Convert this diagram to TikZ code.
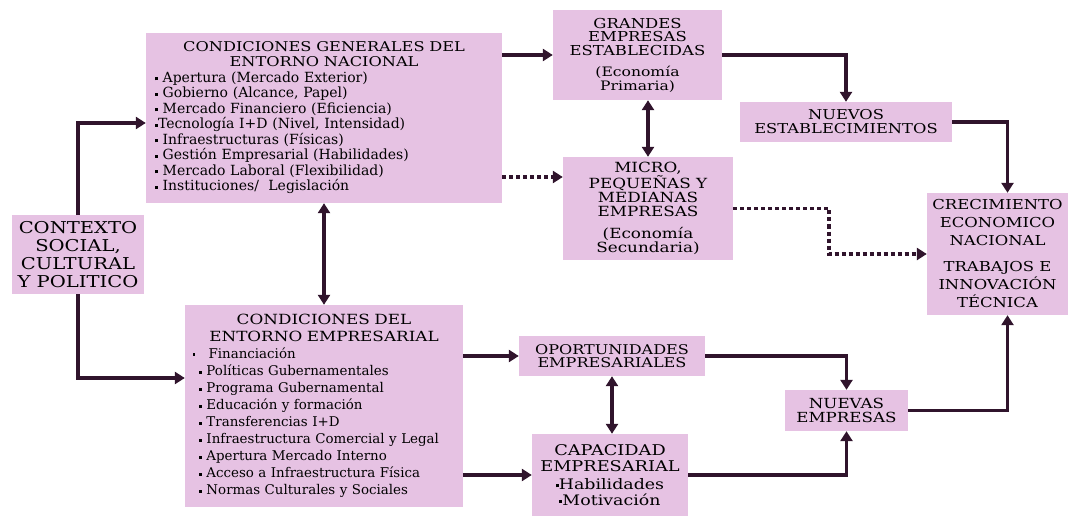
\documentclass[tikz,border=0pt]{standalone}
\usepackage{fontspec}
\setmainfont{DejaVu Serif}
\newfontfamily\capsfont[FakeStretch=1.2]{DejaVu Serif}
\usetikzlibrary{arrows.meta,calc,positioning}
\definecolor{box_pink}{RGB}{230,194,227}
\definecolor{my_dark}{RGB}{48,20,44}
\tikzset{
  box/.style = {fill=box_pink, draw=none, align=center, inner sep=0pt, text=black},
  list_box/.style = {box, align=left, inner xsep=9pt}
}
\newcommand{\sqb}{\rule[0.3ex]{3pt}{3pt}}
\newcommand{\boxtitle}[3]{{\centering\capsfont\fontsize{#1}{#2}\selectfont #3\par}}

\begin{document}
\begin{tikzpicture}[x=1pt, y=-1pt, >={Triangle[length=10pt,width=12pt]},
    link/.style={->, line width=3.5pt, my_dark},
    link2/.style={<->, line width=3.5pt, my_dark},
    dot_link/.style={link, dash pattern=on 4pt off 3pt}]
  \useasboundingbox (0,0) rectangle (1077,516);

  % left column
  \node[box, minimum width=132pt, minimum height=79pt, font=\capsfont\fontsize{16.3}{18}\selectfont]
    (ctx) at (78,254.5) {CONTEXTO\\SOCIAL,\\CULTURAL\\Y POLITICO};

  % national and business conditions
  \node[list_box, minimum height=170pt, text width=338pt, font=\fontsize{14}{15.5}\selectfont]
    (gen) at (324,118) {%
    \boxtitle{13.5}{15}{CONDICIONES GENERALES DEL\\ENTORNO NACIONAL}
    \sqb\ Apertura (Mercado Exterior)\\
    \sqb\ Gobierno (Alcance, Papel)\\
    \sqb\ Mercado Financiero (Eficiencia)\\
    \sqb Tecnología I+D (Nivel, Intensidad)\\
    \sqb\ Infraestructuras (Físicas)\\
    \sqb\ Gestión Empresarial (Habilidades)\\
    \sqb\ Mercado Laboral (Flexibilidad)\\
    \sqb\ Instituciones/\ \ Legislación};
  \node[list_box, inner xsep=14pt, minimum height=202pt, text width=250pt, font=\fontsize{13.4}{17}\selectfont]
    (emp) at (324,406) {%
    \boxtitle{14}{17}{CONDICIONES DEL\\ENTORNO EMPRESARIAL}
    \hspace{-6pt}\rule[0.45ex]{2.2pt}{2.2pt}\ \ \ Financiación\\
    \sqb\ Políticas Gubernamentales\\
    \sqb\ Programa Gubernamental\\
    \sqb\ Educación y formación\\
    \sqb\ Transferencias I+D\\
    \sqb\ Infraestructura Comercial y Legal\\
    \sqb\ Apertura Mercado Interno\\
    \sqb\ Acceso a Infraestructura Física\\
    \sqb\ Normas Culturales y Sociales};

  % firms
  \node[box, minimum width=169pt, minimum height=90pt, font=\capsfont\fontsize{13.7}{13.5}\selectfont]
    (grandes) at (637.5,55) {GRANDES\\EMPRESAS\\ESTABLECIDAS\\[8pt]{\fontsize{13}{15.5}\selectfont(Economía}\\{\fontsize{13}{15.5}\selectfont Primaria)}};
  \node[box, minimum width=170pt, minimum height=103pt, font=\capsfont\fontsize{14}{14}\selectfont]
    (mipymes) at (648,208.5) {MICRO,\\PEQUEÑAS Y\\MEDIANAS\\EMPRESAS\\[8pt]{\fontsize{14}{14}\selectfont(Economía}\\{\fontsize{14}{14}\selectfont Secundaria)}};
  \node[box, minimum width=212pt, minimum height=40pt, font=\capsfont\fontsize{13.6}{14}\selectfont]
    (nuevosest) at (846,122) {NUEVOS\\ESTABLECIMIENTOS};
  \node[box, minimum width=186pt, minimum height=40pt, font=\capsfont\fontsize{13.4}{13}\selectfont]
    (oport) at (612,356) {OPORTUNIDADES\\EMPRESARIALES};
  \node[box, minimum width=156pt, minimum height=82pt, font=\capsfont\fontsize{14.8}{15.5}\selectfont]
    (capac) at (610,475) {CAPACIDAD\\EMPRESARIAL\\[3pt]{\fontsize{14.5}{15.5}\selectfont\sqb Habilidades}\\{\fontsize{14.5}{15.5}\selectfont\sqb Motivación}};
  \node[box, minimum width=123pt, minimum height=41pt, font=\capsfont\fontsize{13.9}{14}\selectfont]
    (nuevas) at (846.5,410.5) {NUEVAS\\EMPRESAS};
  \node[box, minimum width=141pt, minimum height=122pt, font=\capsfont\fontsize{13.7}{18}\selectfont]
    (crec) at (997.5,254) {CRECIMIENTO\\ECONOMICO\\NACIONAL\\[8pt]TRABAJOS E\\INNOVACIÓN\\TÉCNICA};

  % connectors
  \coordinate (g1) at ([yshift=-5pt]gen.west);
  \coordinate (e1) at ([yshift=28pt]emp.west);
  \coordinate (g2) at ([yshift=-59pt]gen.east);
  \draw[link] (ctx.north) |- (g1);
  \draw[link] (ctx.south) |- (e1);
  \draw[link2] (gen.south) -- (emp.north);
  \draw[link] (gen.east |- grandes.west) -- (grandes.west);
  \draw[dot_link] (g2) -- (g2 -| mipymes.west);
  \draw[link2] (mipymes.north |- grandes.south) -- (mipymes.north);
  \draw[link] (grandes.east) -| (nuevosest.north);
  \draw[link] (nuevosest.east) -| ([xshift=10pt]crec.north);
  \draw[dot_link] (mipymes.east) -- ++(96,0) |- (crec.west);
  \draw[link] (emp.east |- oport.west) -- (oport.west);
  \draw[link] (emp.east |- capac.west) -- (capac.west);
  \draw[link2] (oport.south) -- (oport.south |- capac.north);
  \draw[link] (oport.east) -| (nuevas.north);
  \draw[link] (capac.east) -| (nuevas.south);
  \draw[link] (nuevas.east) -| ([xshift=10pt]crec.south);
\end{tikzpicture}
\end{document}
